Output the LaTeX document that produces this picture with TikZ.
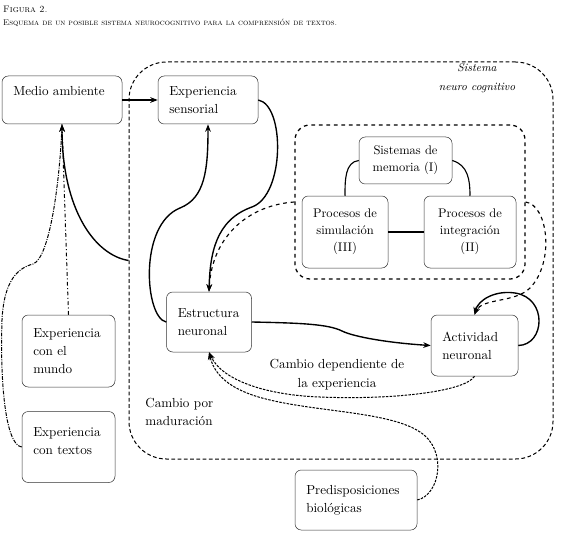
\documentclass[tikz,border=0pt]{standalone}
\usepackage{tikz}
\usetikzlibrary{positioning,arrows.meta}

\tikzset{
  caja/.style={draw=black!80, rounded corners=5pt, align=left, inner xsep=9pt, font=\fontsize{10.5pt}{14.5pt}\selectfont},
  cajac/.style={draw=black!80, rounded corners=5pt, align=center, font=\fontsize{10pt}{13.5pt}\selectfont},
  flecha/.style={line width=1.1pt, -{Stealth[length=6pt,width=4.5pt]}},
  linea/.style={line width=0.9pt},
  discontinua/.style={line width=0.9pt, dashed, -{Stealth[length=6pt,width=4.5pt]}},
  punteada/.style={line width=0.8pt, dash pattern=on 2pt off 1pt, -{Stealth[length=6pt,width=4.5pt]}},
}

\begin{document}
\begin{tikzpicture}[x=0.8pt, y=-0.8pt]
\useasboundingbox (0,0) rectangle (565,545);

% Titulo
\node[anchor=west, font=\fontsize{7.5pt}{9pt}\selectfont, inner sep=0pt] (fig) at (3,9) {\textsc{Figura 2.}};
\node[anchor=west, font=\fontsize{6.6pt}{8pt}\selectfont, inner sep=0pt] (tit) at (3,23) {\textsc{Esquema de un posible sistema neurocognitivo para la comprensión de textos.}};

% Sistema neurocognitivo y nucleo interno
\node[draw, densely dashed, line width=0.8pt, rounded corners=30pt, minimum width=339.2pt, minimum height=317.6pt] (sistema) at (341,260.5) {};
\node[font=\fontsize{9pt}{15pt}\selectfont\itshape, align=center] (sistema-t) at (477,78) {Sistema\\neuro cognitivo};
\node[draw, dashed, line width=1pt, rounded corners=12pt, minimum width=184pt, minimum height=123.2pt] (nucleo) at (410,202) {};

% Cajas
\node[caja, text width=78pt, minimum height=38.4pt, text depth=14pt] (medio) at (62,100) {Medio ambiente};
\node[caja, text width=62pt, minimum height=38.4pt] (sensorial) at (208,100) {Experiencia\\sensorial};
\node[cajac, minimum width=74.4pt, minimum height=37.6pt] (memoria) at (405.5,160.5) {Sistemas de\\memoria (I)};
\node[cajac, minimum width=68.8pt, minimum height=57.6pt] (simulacion) at (345,232) {Procesos de\\simulación\\(III)};
\node[cajac, minimum width=73.6pt, minimum height=57.6pt] (integracion) at (470,232) {Procesos de\\integración\\(II)};
\node[caja, text width=50pt, minimum height=48pt] (estructura) at (209,322) {Estructura\\neuronal};
\node[caja, text width=51.6pt, minimum height=48.8pt] (actividad) at (474.5,345.5) {Actividad\\neuronal};
\node[caja, text width=56.4pt, minimum height=57.6pt] (mundo) at (68.5,351) {Experiencia\\con el\\mundo};
\node[caja, text width=56.4pt, minimum height=56.8pt, text depth=24pt] (textos) at (68.5,447) {Experiencia\\con textos};
\node[caja, text width=79.6pt, minimum height=48pt] (predisp) at (356,500) {Predisposiciones\\biológicas};

% Etiquetas
\node[align=center, font=\fontsize{10.5pt}{15pt}\selectfont] (cambio-exp) at (337,375) {Cambio dependiente de\\la experiencia};
\node[align=left, anchor=west, font=\fontsize{10.5pt}{14pt}\selectfont] (cambio-mad) at (141,412) {Cambio por\\maduración};

% Nucleo: conexiones internas
\draw[linea] (memoria.west) .. controls (345,162) and (345,180) .. (simulacion.north);
\draw[linea] (memoria.east) .. controls (468,165) and (470,180) .. (integracion.north);
\draw[linea] (simulacion.east) -- (integracion.west);

% Conexiones
\draw[flecha] (medio.east) -- (sensorial.west);
\draw[flecha] (sensorial.east) .. controls (285,105) and (285,195) .. (252,207) .. controls (215,220) and (210,255) .. (estructura.north);
\draw[flecha] (estructura.west) .. controls (145,318) and (138,225) .. (180,208) .. controls (205,198) and (208,170) .. (sensorial.south);
\draw[discontinua] (nucleo.west) .. controls (250,205) and (212,235) .. (estructura.north);
\draw[flecha] (sistema.west) .. controls (95,255) and (62,210) .. (medio.south);
\draw[line width=0.8pt, dash dot, -{Stealth[length=6pt,width=4.5pt]}] (mundo.north) -- (medio.south);
\draw[line width=0.8pt, densely dash dot] (textos.west) .. controls (5,445) and (0,380) .. (2,320) .. controls (4,280) and (18,268) .. (33,264) .. controls (50,258) and (60,180) .. (medio.south);
\draw[flecha] (estructura.east) .. controls (300,323) and (328,324) .. (342,331) .. controls (354,337) and (390,343) .. (actividad.west);
\draw[flecha] (actividad.east) .. controls (545,345) and (548,298) .. (515,293) .. controls (495,290) and (478,300) .. (actividad.north);
\draw[discontinua] (nucleo.east) .. controls (548,205) and (555,262) .. (530,288) .. controls (515,303) and (482,298) .. (actividad.north);
\draw[punteada] (actividad.south) .. controls (465,392) and (390,400) .. (320,397) .. controls (265,395) and (222,380) .. (estructura.south);
\draw[punteada] (predisp.east) .. controls (440,495) and (448,450) .. (420,432) .. controls (390,412) and (320,412) .. (270,400) .. controls (235,392) and (215,378) .. (estructura.south);
\end{tikzpicture}
\end{document}
